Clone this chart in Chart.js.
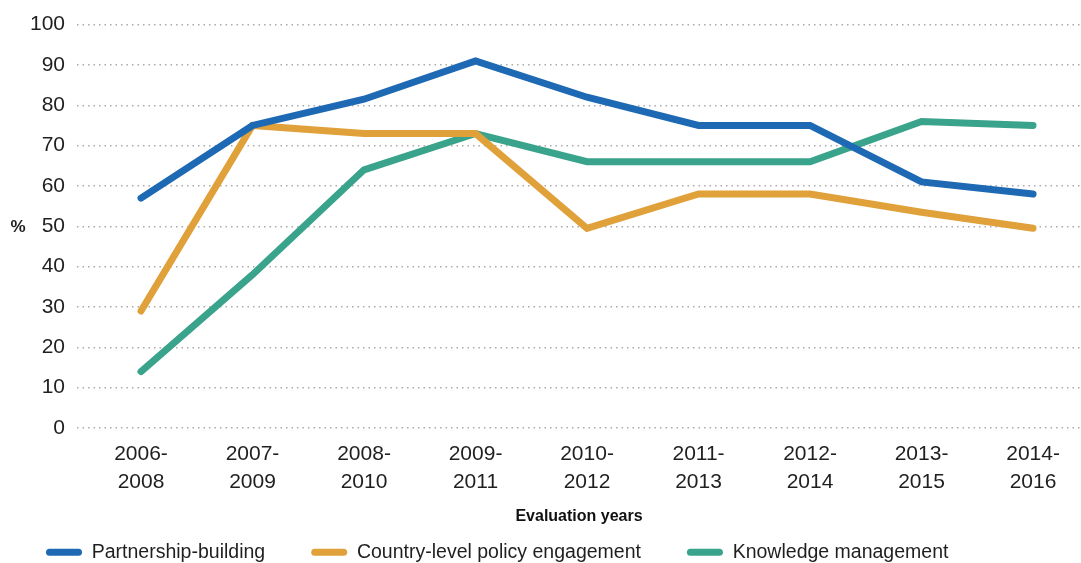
<!DOCTYPE html>
<html>
<head>
<meta charset="utf-8">
<script src="https://cdn.jsdelivr.net/npm/chart.js@4.4.1/dist/chart.umd.min.js"></script>
<style>
  html, body { margin: 0; padding: 0; background: #fff; overflow: hidden; }
  #wrap { width: 1081px; height: 563px; overflow: hidden; }
  #box { width: 1081px; height: 572px; position: relative; }
</style>
</head>
<body>
<div id="wrap"><div id="box"><canvas id="lineChart"></canvas></div></div>
<script>
// Evaluation periods (x axis)
const periods = ['2006-2008', '2007-2009', '2008-2010', '2009-2011', '2010-2012',
                 '2011-2013', '2012-2014', '2013-2015', '2014-2016'];

// Share of evaluations, in %
const partnership = [57, 75, 81.5, 91, 82, 75, 75, 61, 58];
const policy      = [29, 75, 73, 73, 49.5, 58, 58, 53.5, 49.5];
const knowledge   = [14, 38, 64, 73, 66, 66, 66, 76, 75];

const yTicks = [0, 10, 20, 30, 40, 50, 60, 70, 80, 90, 100];

const FONT = "'Liberation Sans', Arial, sans-serif";
const TEXT = '#1f1f1f';

function points(values) {
    return values.map((v, i) => ({ x: i, y: v }));
}

function series(label, values, color) {
    return {
        label: label,
        data: points(values),
        borderColor: color,
        backgroundColor: color,
        borderWidth: 7,
        borderCapStyle: 'round',
        borderJoinStyle: 'miter',
        pointRadius: 0,
        pointHoverRadius: 0,
        tension: 0
    };
}

// Draws the horizontal "%" next to the y axis
const percentLabel = {
    id: 'percentLabel',
    afterDraw(chart) {
        const { ctx, chartArea } = chart;
        ctx.save();
        ctx.font = 'bold 17px ' + FONT;
        ctx.fillStyle = TEXT;
        ctx.textAlign = 'center';
        ctx.textBaseline = 'middle';
        ctx.fillText('%', 18, (chartArea.top + chartArea.bottom) / 2 + 1);
        ctx.restore();
    }
};

document.addEventListener('DOMContentLoaded', function() {
    const ctx = document.getElementById('lineChart').getContext('2d');

    new Chart(ctx, {
        type: 'line',
        data: {
            datasets: [
                series('Partnership-building', partnership, '#1e69b3'),
                series('Country-level policy engagement', policy, '#e0a13a'),
                series('Knowledge management', knowledge, '#3aa38b')
            ]
        },
        options: {
            responsive: true,
            maintainAspectRatio: false,
            animation: false,
            events: [],
            layout: { padding: { top: 24, left: 0, right: 0, bottom: 0 } },
            scales: {
                x: {
                    type: 'linear',
                    min: -0.574,
                    max: 8.43,
                    grid: { display: false },
                    border: { display: false },
                    afterBuildTicks(axis) {
                        axis.ticks = periods.map((_, i) => ({ value: i }));
                    },
                    afterFit(axis) {
                        axis.height = 68.5;
                    },
                    ticks: {
                        autoSkip: false,
                        maxRotation: 0,
                        padding: 4,
                        color: TEXT,
                        font: { family: FONT, size: 21, lineHeight: 1.35 },
                        callback(value) {
                            const p = periods[value];
                            if (!p) return '';
                            const parts = p.split('-');
                            return [parts[0] + '-', parts[1]];
                        }
                    },
                    title: {
                        display: true,
                        text: 'Evaluation years',
                        color: '#111111',
                        font: { family: FONT, size: 16, weight: 'bold' },
                        padding: { top: 0, bottom: -30 }
                    }
                },
                y: {
                    min: 0,
                    max: 100,
                    afterBuildTicks(axis) {
                        axis.ticks = yTicks.map(v => ({ value: v }));
                    },
                    afterFit(axis) {
                        axis.width = 77;
                    },
                    // dotted grid lines
                    border: { display: false, dash: [1.5, 4] },
                    grid: {
                        color: '#aaaaaa',
                        lineWidth: 1.5,
                        drawTicks: false
                    },
                    ticks: {
                        padding: 12,
                        color: TEXT,
                        font: { family: FONT, size: 21 }
                    }
                }
            },
            plugins: {
                tooltip: { enabled: false },
                legend: {
                    position: 'bottom',
                    align: 'start',
                    labels: {
                        boxWidth: 36,
                        boxHeight: 7,
                        padding: 46,
                        useBorderRadius: true,
                        borderRadius: 3.5,
                        color: TEXT,
                        font: { family: FONT, size: 19.5 },
                        generateLabels(chart) {
                            const items = Chart.defaults.plugins.legend.labels.generateLabels(chart);
                            items.forEach(it => {
                                it.lineWidth = 0;
                                it.fillStyle = it.strokeStyle;
                            });
                            return items;
                        }
                    }
                }
            }
        },
        plugins: [percentLabel]
    });
});
</script>
</body>
</html>
